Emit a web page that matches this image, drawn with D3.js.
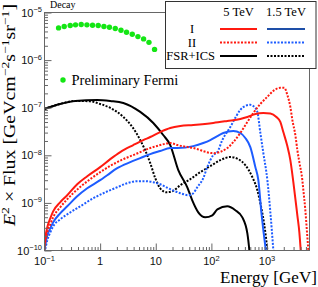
<!DOCTYPE html>
<html>
<head>
<meta charset="utf-8">
<script src="https://cdn.jsdelivr.net/npm/d3@7"></script>
<style>
body { margin: 0; background: #fff; }
svg { display: block; }
.serif { font-family: "Liberation Serif", "Times New Roman", serif; }
.tick-label { font-family: "Liberation Sans", Arial, sans-serif; font-size: 11px; fill: #111; }
</style>
</head>
<body>
<div id="chart"></div>
<script>
////// data //////
// Fermi preliminary points (GeV, GeV cm^-2 s^-1 sr^-1)
var fermiE = [0.179, 0.226, 0.290, 0.361, 0.457, 0.579, 0.730, 0.924, 1.17, 1.47, 1.87, 2.37, 2.98, 3.78, 4.78, 6.04, 7.55, 9.51];
var fermiFlux = [4.75e-6, 5.07e-6, 5.32e-6, 5.50e-6, 5.58e-6, 5.50e-6, 5.40e-6, 5.32e-6, 5.07e-6, 4.90e-6, 4.60e-6, 4.23e-6, 3.84e-6, 3.49e-6, 3.12e-6, 2.79e-6, 2.36e-6, 1.68e-6];

// I, 5 TeV
var i5E = [0.1, 0.103, 0.112, 0.127, 0.143, 0.191, 0.256, 0.387, 0.586, 1.0, 1.52, 2.30, 3.94, 5.96, 7.96, 12.0, 18.2, 27.6, 47.3, 108, 193, 331, 443, 617, 859, 1148, 1472, 1734, 1963, 2317, 2624, 2972, 3508, 3811, 4055];
var i5Flux = [1.21e-10, 1.79e-10, 3.05e-10, 4.73e-10, 6.65e-10, 1.03e-9, 1.45e-9, 2.47e-9, 3.64e-9, 5.64e-9, 8.3e-9, 1.17e-8, 1.64e-8, 2.09e-8, 2.42e-8, 3.08e-8, 3.75e-8, 4.13e-8, 4.34e-8, 4.78e-8, 5.27e-8, 5.81e-8, 6.40e-8, 7.40e-8, 7.77e-8, 7.59e-8, 6.40e-8, 5.02e-8, 3.08e-8, 1.56e-8, 7.92e-9, 2.72e-9, 5.47e-10, 2.40e-10, 9.1e-11];

// II, 5 TeV
var ii5E = [0.1, 0.103, 0.112, 0.127, 0.143, 0.191, 0.256, 0.328, 0.663, 1.0, 2.61, 3.94, 7.96, 12.0, 18.2, 24.4, 47.3, 108, 193, 248, 331, 443, 568, 759, 1014, 1300, 1734, 2046, 2317, 2624, 2851, 3228, 3508, 3811, 4315, 4498, 4887, 5200, 5535];
var ii5Flux = [1.05e-10, 1.48e-10, 2.40e-10, 3.54e-10, 4.97e-10, 8.07e-10, 1.19e-9, 1.60e-9, 3.15e-9, 4.42e-9, 8.3e-9, 1.01e-8, 1.42e-8, 1.64e-8, 1.81e-8, 1.64e-8, 1.42e-8, 1.11e-8, 1.42e-8, 1.90e-8, 2.94e-8, 5.02e-8, 7.77e-8, 1.20e-7, 1.69e-7, 2.26e-7, 2.62e-7, 2.62e-7, 1.86e-7, 1.04e-7, 5.53e-8, 2.67e-8, 1.29e-8, 7.19e-9, 3.00e-9, 1.85e-9, 6.98e-10, 2.64e-10, 1.0e-10];

// FSR+ICS, 5 TeV
var fsr5E = [0.1, 0.191, 0.356, 0.887, 1.52, 2.61, 5.26, 9.02, 13.6, 18.2, 25.4, 36.9, 45.3, 58.1, 77.6, 104, 128, 193, 269, 360, 443, 481, 501];
var fsr5Flux = [9.4e-8, 1.20e-7, 1.39e-7, 1.46e-7, 1.39e-7, 1.26e-7, 8.15e-8, 4.78e-8, 2.67e-8, 1.64e-8, 4.88e-9, 2.13e-9, 1.13e-9, 6.34e-10, 4.97e-10, 5.47e-10, 7.33e-10, 8.48e-10, 7.0e-10, 4.97e-10, 2.29e-10, 1.0e-10, 5.6e-11];

// I, 1.5 TeV
var i15E = [0.1, 0.103, 0.112, 0.127, 0.143, 0.191, 0.256, 0.387, 0.586, 1.0, 1.34, 2.03, 3.48, 5.26, 7.96, 12.0, 18.2, 24.4, 47.3, 71.4, 95.5, 128, 164, 248, 331, 407, 501, 617, 698, 791, 859, 952];
var i15Flux = [1.0e-10, 1.27e-10, 2.07e-10, 2.91e-10, 3.90e-10, 6.04e-10, 8.48e-10, 1.38e-9, 2.03e-9, 3.00e-9, 3.82e-9, 5.37e-9, 7.19e-9, 8.73e-9, 1.06e-8, 1.23e-8, 1.42e-8, 1.42e-8, 1.56e-8, 1.81e-8, 2.09e-8, 2.54e-8, 2.94e-8, 3.24e-8, 2.94e-8, 2.31e-8, 1.49e-8, 5.64e-9, 3.00e-9, 6.34e-10, 2.64e-10, 1.0e-10];

// II, 1.5 TeV
var ii15E = [0.1, 0.103, 0.112, 0.127, 0.143, 0.191, 0.256, 0.439, 0.751, 1.24, 2.03, 3.07, 4.65, 6.47, 9.02, 12.0, 18.2, 27.6, 38.5, 47.3, 55.8, 71.4, 84.3, 108, 128, 157, 219, 281, 331, 407, 501, 592, 670, 759, 859, 1014, 1148, 1300];
var ii15Flux = [9.1e-11, 1.05e-10, 1.63e-10, 2.40e-10, 3.21e-10, 4.51e-10, 5.74e-10, 8.48e-10, 1.25e-9, 1.67e-9, 2.13e-9, 2.59e-9, 2.86e-9, 2.86e-9, 2.72e-9, 2.47e-9, 1.94e-9, 1.60e-9, 1.45e-9, 1.60e-9, 2.13e-9, 3.30e-9, 5.64e-9, 1.01e-8, 1.17e-8, 2.09e-8, 3.94e-8, 6.71e-8, 9.0e-8, 1.09e-7, 1.15e-7, 1.04e-7, 8.15e-8, 2.94e-8, 1.11e-8, 3.00e-9, 6.34e-10, 1.0e-10];

// FSR+ICS, 1.5 TeV
var fsr15E = [0.1, 0.191, 0.356, 0.663, 1.0, 1.52, 2.61, 3.78, 5.26, 7.96, 9.8, 12.0, 15.5, 19.8, 27.6, 41.8, 63.1, 95.5, 145, 219, 305, 407, 545, 670, 791, 896, 1014, 1060];
var fsr15Flux = [9.4e-8, 1.20e-7, 1.39e-7, 1.36e-7, 1.20e-7, 9.9e-8, 6.4e-8, 3.94e-8, 2.09e-8, 6.85e-9, 3.30e-9, 2.03e-9, 1.67e-9, 1.76e-9, 2.35e-9, 3.15e-9, 4.42e-9, 5.92e-9, 7.92e-9, 9.2e-9, 8.3e-9, 6.21e-9, 3.47e-9, 1.85e-9, 7.7e-10, 3.37e-10, 1.0e-10, 5.6e-11];

// tick labels
var xTickValues = [0.1, 1, 10, 100, 1000];
var xTickBase = ['10', '1', '10', '10', '10'];
var xTickExp = ['\u22121', '', '', '2', '3'];
var yTickValues = [1e-10, 1e-9, 1e-8, 1e-7, 1e-6, 1e-5];
var yTickExp = ['\u221210', '\u22129', '\u22128', '\u22127', '\u22126', '\u22125'];

////// chart //////
const chartWidth = 318;
const chartHeight = 287;
const red = '#ff1a10';
const blue = '#1d5cff';
const dotDash = '2,1.5';

var svg = d3.select('#chart')
  .append('svg')
    .attr('width', chartWidth)
    .attr('height', chartHeight);

var x = d3.scaleLog().domain([0.1, 5800]).range([44.5, 309.5]);
var y = d3.scaleLog().domain([1e-10, 1e-5]).range([250.5, 12.5]);

// clip to the frame
svg.append('clipPath').attr('id', 'plotClip')
  .append('rect')
    .attr('x', 44.5).attr('y', 12.5)
    .attr('width', 265).attr('height', 238);

var series = [
  {E: fsr5E, F: fsr5Flux, color: '#000', dash: null},
  {E: fsr15E, F: fsr15Flux, color: '#000', dash: dotDash},
  {E: i15E, F: i15Flux, color: blue, dash: null},
  {E: ii15E, F: ii15Flux, color: blue, dash: dotDash},
  {E: i5E, F: i5Flux, color: red, dash: null},
  {E: ii5E, F: ii5Flux, color: red, dash: dotDash}
];

var line = d3.line()
  .x(d => x(d[0]))
  .y(d => y(d[1]))
  .curve(d3.curveMonotoneX);

var curves = svg.append('g').attr('clip-path', 'url(#plotClip)');
series.forEach(function(s) {
  curves.append('path')
    .datum(d3.zip(s.E, s.F))
    .attr('d', line)
    .attr('fill', 'none')
    .attr('stroke', s.color)
    .attr('stroke-width', 2)
    .attr('stroke-dasharray', s.dash);
});

// Fermi points
svg.append('g').selectAll('circle')
  .data(d3.zip(fermiE, fermiFlux))
  .enter()
  .append('circle')
    .attr('cx', d => x(d[0]))
    .attr('cy', d => y(d[1]))
    .attr('r', 2.7)
    .attr('fill', '#14e614');

// minor tick values (2..9 each decade)
var xMinor = [], yMinor = [];
for (var k = -1; k <= 3; k++)
  for (var m = 2; m <= 9; m++)
    if (m * Math.pow(10, k) < 5800) xMinor.push(m * Math.pow(10, k));
for (var k = -10; k <= -6; k++)
  for (var m = 2; m <= 9; m++)
    yMinor.push(m * Math.pow(10, k));

var axisColor = '#666';

// x axis
var gx = svg.append('g').attr('transform', 'translate(0,250.5)');
gx.call(d3.axisBottom(x).tickValues(xMinor).tickSize(-3.5).tickFormat(''));
gx.append('g').call(d3.axisBottom(x).tickValues(xTickValues).tickSize(-7).tickFormat(''));
gx.selectAll('.domain').remove();
gx.selectAll('line').attr('stroke', axisColor);

// y axis
var gy = svg.append('g').attr('transform', 'translate(44.5,0)');
gy.call(d3.axisLeft(y).tickValues(yMinor).tickSize(-3.5).tickFormat(''));
gy.append('g').call(d3.axisLeft(y).tickValues(yTickValues).tickSize(-7).tickFormat(''));
gy.selectAll('.domain').remove();
gy.selectAll('line').attr('stroke', axisColor);

// frame
svg.append('rect')
  .attr('x', 44.5).attr('y', 12.5)
  .attr('width', 265).attr('height', 238)
  .attr('fill', 'none')
  .attr('stroke', axisColor);

// x tick labels
xTickValues.forEach(function(v, i) {
  var t = svg.append('text')
    .attr('class', 'tick-label')
    .attr('x', x(v))
    .attr('y', 265)
    .attr('text-anchor', 'middle');
  t.append('tspan').text(xTickBase[i]);
  if (xTickExp[i])
    t.append('tspan').attr('dy', -4.5).style('font-size', '7.5px').text(xTickExp[i]);
});

// y tick labels
yTickValues.forEach(function(v, i) {
  var t = svg.append('text')
    .attr('class', 'tick-label')
    .attr('x', 42)
    .attr('y', y(v) + 4)
    .attr('text-anchor', 'end');
  t.append('tspan').text('10');
  t.append('tspan').attr('dy', -4.5).style('font-size', '7.5px').text(yTickExp[i]);
});

// axis titles
svg.append('text')
  .attr('class', 'serif')
  .attr('x', 317)
  .attr('y', 283)
  .attr('text-anchor', 'end')
  .attr('textLength', 97)
  .attr('lengthAdjust', 'spacingAndGlyphs')
  .style('font-size', '16.5px')
  .text('Energy [GeV]');

var yTitle = svg.append('text')
  .attr('class', 'serif')
  .attr('transform', 'translate(15,226) rotate(-90)')
  .attr('textLength', 222)
  .attr('lengthAdjust', 'spacingAndGlyphs')
  .style('font-size', '16px');
yTitle.append('tspan').style('font-style', 'italic').text('E');
yTitle.append('tspan').attr('dy', -6).style('font-size', '11px').text('2');
yTitle.append('tspan').attr('dy', 6).text(' \u00d7 Flux [GeVcm');
yTitle.append('tspan').attr('dy', -6).style('font-size', '11px').text('\u22122');
yTitle.append('tspan').attr('dy', 6).text('s');
yTitle.append('tspan').attr('dy', -6).style('font-size', '11px').text('\u22121');
yTitle.append('tspan').attr('dy', 6).text('sr');
yTitle.append('tspan').attr('dy', -6).style('font-size', '11px').text('\u22121');
yTitle.append('tspan').attr('dy', 6).text(']');

// Decay
svg.append('text')
  .attr('class', 'serif')
  .attr('x', 50)
  .attr('y', 8)
  .style('font-size', '10px')
  .text('Decay');

// Fermi legend
svg.append('circle').attr('cx', 63).attr('cy', 80).attr('r', 2.7).attr('fill', '#14e614');
svg.append('text')
  .attr('class', 'serif')
  .attr('x', 71.5)
  .attr('y', 85)
  .style('font-size', '14.5px')
  .text('Preliminary Fermi');

////// legend //////
var legend = svg.append('g');
legend.append('rect')
  .attr('x', 165.5).attr('y', 1.5)
  .attr('width', 150.5).attr('height', 67)
  .attr('fill', '#fff')
  .attr('stroke', '#333');

var legendCols = ['5 TeV', '1.5 TeV'];
var legendColX = [238.5, 286];
var legendRows = ['I', 'II', 'FSR+ICS'];
var legendRowY = [29, 42.5, 56];

legendCols.forEach(function(c, i) {
  legend.append('text').attr('class', 'serif')
    .attr('x', legendColX[i]).attr('y', 15.5)
    .attr('text-anchor', 'middle')
    .style('font-size', '12.5px')
    .text(c);
});
legend.append('text').attr('class', 'serif').attr('x', 192).attr('y', 33.3).attr('text-anchor', 'middle').style('font-size', '12.5px').text(legendRows[0]);
legend.append('text').attr('class', 'serif').attr('x', 192).attr('y', 46.5).attr('text-anchor', 'middle').style('font-size', '12.5px').text(legendRows[1]);
legend.append('text').attr('class', 'serif').attr('x', 215).attr('y', 59.8).attr('text-anchor', 'end').style('font-size', '12.5px').text(legendRows[2]);

var legendStyle = [
  [{color: red, dash: null}, {color: '#1e4fa8', dash: null}],
  [{color: red, dash: dotDash}, {color: blue, dash: dotDash}],
  [{color: '#000', dash: null}, {color: '#000', dash: dotDash}]
];
var legendLineX = [[220, 257], [267, 305]];
legendStyle.forEach(function(row, r) {
  row.forEach(function(st, c) {
    legend.append('line')
      .attr('x1', legendLineX[c][0]).attr('x2', legendLineX[c][1])
      .attr('y1', legendRowY[r]).attr('y2', legendRowY[r])
      .attr('stroke', st.color)
      .attr('stroke-width', 2)
      .attr('stroke-dasharray', st.dash);
  });
});
</script>
</body>
</html>
